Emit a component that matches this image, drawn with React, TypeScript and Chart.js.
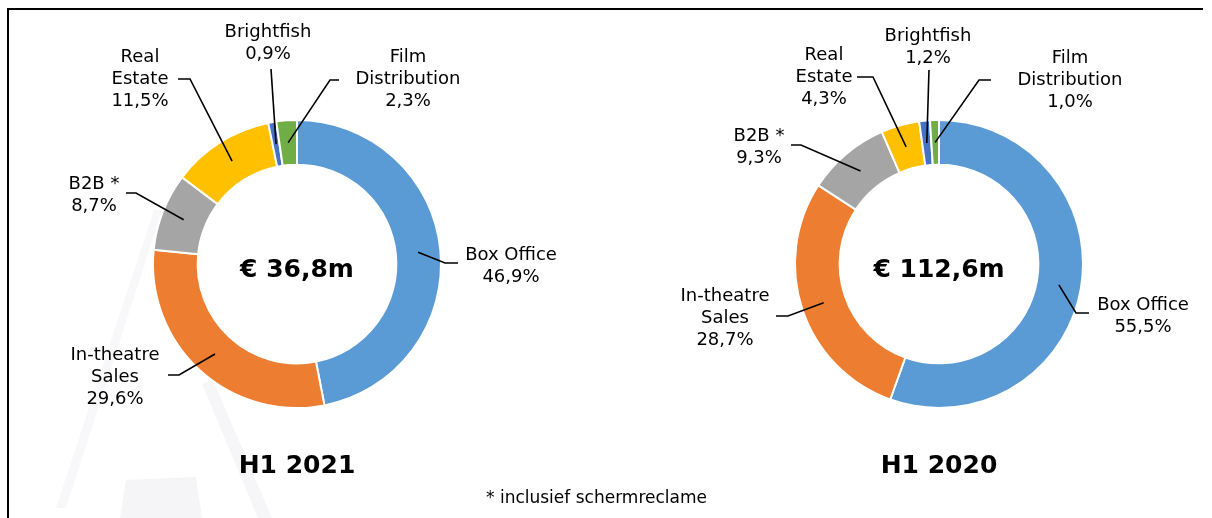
import React, { useEffect, useRef } from 'react';
import { Chart, registerables } from 'chart.js';

Chart.register(...registerables);

// ---------- data ----------
const segments = ['Box Office', 'In-theatre Sales', 'B2B *', 'Real Estate', 'Brightfish', 'Film Distribution'];
const labelLines = [['Box Office'], ['In-theatre', 'Sales'], ['B2B *'], ['Real', 'Estate'], ['Brightfish'], ['Film', 'Distribution']];
const values2021 = [46.9, 29.6, 8.7, 11.5, 0.9, 2.3];
const values2020 = [55.5, 28.7, 9.3, 4.3, 1.2, 1.0];
const totals = ['€ 36,8m', '€ 112,6m'];
const periods = ['H1 2021', 'H1 2020'];
const footnote = '* inclusief schermreclame';

// ---------- style ----------
const colors = ['#5B9BD5', '#ED7D31', '#A5A5A5', '#FFC000', '#4472C4', '#70AD47'];
const FONT = '"DejaVu Sans", sans-serif';

// label layout relative to doughnut centre: text centre (tx,ty), leader end (ex,ey), elbow (bx,by)
const layout2021 = [
  { tx: 214, ty: 2, ex: 161, ey: -1, bx: 148, by: -1 },
  { tx: -182, ty: 113, ex: -129, ey: 111, bx: -118, by: 111 },
  { tx: -203, ty: -69, ex: -171, ey: -71, bx: -161, by: -71 },
  { tx: -157, ty: -185, ex: -119, ey: -185, bx: -107, by: -185 },
  { tx: -29, ty: -221, ex: -26, ey: -195, bx: -26, by: -195 },
  { tx: 111, ty: -185, ex: 42, ey: -184, bx: 33, by: -184 },
];
const layout2020 = [
  { tx: 204, ty: 52, ex: 150, ey: 49, bx: 137, by: 49 },
  { tx: -214, ty: 54, ex: -163, ey: 52, bx: -151, by: 52 },
  { tx: -180, ty: -117, ex: -148, ey: -119, bx: -138, by: -119 },
  { tx: -115, ty: -187, ex: -82, ey: -187, bx: -66, by: -187 },
  { tx: -11, ty: -217, ex: -10, ey: -194, bx: -10, by: -194 },
  { tx: 131, ty: -184, ex: 52, ey: -184, bx: 40, by: -184 },
];

const fmt = (v: number) => v.toFixed(1).replace('.', ',') + '%';

function makePlugin(values: number[], lay: any[], total: string, period: string) {
  return {
    id: 'labels',
    afterDraw(chart: any) {
      const ctx = chart.ctx;
      const meta = chart.getDatasetMeta(0);
      const arcs = meta.data;
      if (!arcs.length) return;
      const cx = arcs[0].x;
      const cy = arcs[0].y;
      ctx.save();
      ctx.fillStyle = '#000';
      ctx.strokeStyle = '#000';
      ctx.lineWidth = 1.6;
      ctx.textAlign = 'center';
      ctx.textBaseline = 'middle';
      arcs.forEach((arc: any, i: number) => {
        const p = arc.getProps(['startAngle', 'endAngle', 'innerRadius', 'outerRadius'], true);
        const mid = (p.startAngle + p.endAngle) / 2;
        const r = (p.innerRadius + p.outerRadius) / 2;
        const ax = cx + Math.cos(mid) * r;
        const ay = cy + Math.sin(mid) * r;
        const L = lay[i];
        ctx.beginPath();
        ctx.moveTo(ax, ay);
        ctx.lineTo(cx + L.bx, cy + L.by);
        ctx.lineTo(cx + L.ex, cy + L.ey);
        ctx.stroke();
        const lines = [...labelLines[i], fmt(values[i])];
        const lh = 22;
        ctx.font = `18px ${FONT}`;
        lines.forEach((t, k) => {
          ctx.fillText(t, cx + L.tx, cy + L.ty + (k - (lines.length - 1) / 2) * lh);
        });
      });
      ctx.font = `bold 25px ${FONT}`;
      ctx.fillText(total, cx, cy + 6);
      ctx.fillText(period, cx, cy + 202);
      ctx.restore();
    },
  };
}

function Donut({ values, lay, total, period, left, pad }: any) {
  const ref = useRef<HTMLCanvasElement>(null);
  useEffect(() => {
    if (!ref.current) return;
    const chart = new Chart(ref.current, {
      type: 'doughnut',
      data: {
        labels: segments,
        datasets: [
          {
            data: values,
            backgroundColor: colors,
            borderColor: '#ffffff',
            borderWidth: 2,
            hoverOffset: 0,
          },
        ],
      },
      options: {
        responsive: false,
        animation: false,
        cutout: '69%',
        layout: { padding: pad },
        plugins: { legend: { display: false }, tooltip: { enabled: false } },
        events: [],
      },
      plugins: [makePlugin(values, lay, total, period)],
    } as any);
    return () => chart.destroy();
  }, []);
  return (
    <canvas
      ref={ref}
      width={606}
      height={518}
      style={{ position: 'absolute', left, top: 0, width: 606, height: 518 }}
    />
  );
}

export default function App() {
  return (
    <div style={{ position: 'absolute', left: 0, top: 0, width: 1212, height: 518, background: '#fff', overflow: 'hidden' }}>
      <svg width={1212} height={518} style={{ position: 'absolute', left: 0, top: 0 }}>
        <polygon points="56,508 66,508 162,210 154,210" fill="#f8f8fb" />
        <polygon points="202,384 213,380 272,518 258,518" fill="#f6f6f9" />
        <polygon points="126,480 196,477 202,518 120,518" fill="#f5f5f8" />
      </svg>
      <div style={{ position: 'absolute', left: 7, top: 8, width: 1196, height: 2, background: '#000' }} />
      <div style={{ position: 'absolute', left: 7, top: 8, width: 2, height: 520, background: '#000' }} />
      <Donut values={values2021} lay={layout2021} total={totals[0]} period={periods[0]} left={0}
        pad={{ left: 152, right: 164, top: 119, bottom: 109 }} />
      <Donut values={values2020} lay={layout2020} total={totals[1]} period={periods[1]} left={606}
        pad={{ left: 188, right: 128, top: 119, bottom: 109 }} />
      <div style={{ position: 'absolute', left: 0, width: 1193, top: 485, textAlign: 'center', font: `17px ${FONT}`, color: '#000', lineHeight: '24px' }}>
        {footnote}
      </div>
    </div>
  );
}
